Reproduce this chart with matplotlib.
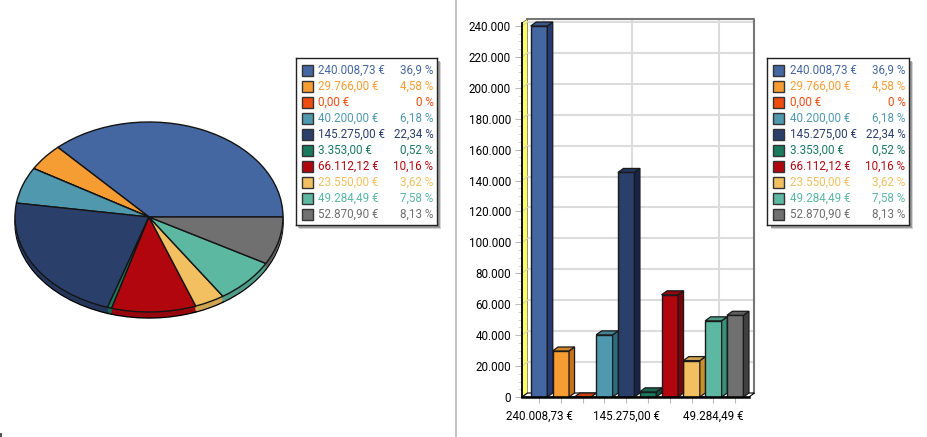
import numpy as np
import matplotlib
matplotlib.use("Agg")
import matplotlib.pyplot as plt
from matplotlib.colors import to_rgb
from matplotlib.patches import Rectangle, Polygon
from matplotlib.ticker import FuncFormatter, MultipleLocator

W, H = 928, 437
FS = 8.4

labels = ["240.008,73 €", "29.766,00 €", "0,00 €", "40.200,00 €", "145.275,00 €",
          "3.353,00 €", "66.112,12 €", "23.550,00 €", "49.284,49 €", "52.870,90 €"]
percents = ["36,9 %", "4,58 %", "0 %", "6,18 %", "22,34 %",
            "0,52 %", "10,16 %", "3,62 %", "7,58 %", "8,13 %"]
values = [240008.73, 29766.00, 0.00, 40200.00, 145275.00,
          3353.00, 66112.12, 23550.00, 49284.49, 52870.90]
colors = ["#4567A1", "#F59D33", "#F04C0F", "#4F98AE", "#2B3F6B",
          "#1A7A5E", "#B2060F", "#F2C060", "#5CB8A0", "#707070"]
side_colors = ["#243A70", "#C8701A", "#B03008", "#2C6C80", "#16244A",
               "#0D4D3A", "#780308", "#C8902C", "#389078", "#404040"]

plt.rcParams["font.family"] = ["Roboto", "DejaVu Sans"]


def px_axes(fig, x0, y0, x1, y1, **kw):
    # pixel box, y counted from the top of the image
    return fig.add_axes([x0 / W, 1 - y1 / H, (x1 - x0) / W, (y1 - y0) / H], **kw)


def shade(c, k):
    return tuple(v * k for v in to_rgb(c))


def draw_pie(fig):
    # top face: centre (149, 217), radii 134 x 95 px, 6 px deep
    ax = px_axes(fig, 14, 121, 284, 320)
    depth = 6 / 95
    pie_sides = [shade(c, 0.85) for c in colors]
    for off in np.linspace(depth, 0.01, 7):
        edge = {"linewidth": 1.0, "edgecolor": "black"} if off == depth else {"linewidth": 0}
        ax.pie(values, colors=pie_sides, startangle=0, center=(0, -off), radius=1, wedgeprops=edge)
    ax.pie(values, colors=colors, startangle=0, radius=1,
           wedgeprops={"linewidth": 1.0, "edgecolor": "#141414"})
    ax.set_aspect("auto")
    ax.set_xlim(-135 / 134, 135 / 134)
    ax.set_ylim(-103 / 95, 96 / 95)
    ax.axis("off")


def draw_legend(fig, x0, y0):
    w, h = 142, 167
    for off, alpha in [(4, 0.25), (3, 0.45)]:
        shadow = px_axes(fig, x0 + off, y0 + off, x0 + w + off, y0 + h + off)
        shadow.set_facecolor("#555555")
        shadow.patch.set_alpha(alpha)
        shadow.set_xticks([])
        shadow.set_yticks([])
        for s in shadow.spines.values():
            s.set_visible(False)
    ax = px_axes(fig, x0, y0, x0 + w, y0 + h)
    ax.set_xlim(0, w)
    ax.set_ylim(h, 0)
    ax.set_xticks([])
    ax.set_yticks([])
    for s in ax.spines.values():
        s.set_linewidth(1)
        s.set_color("#222222")
    for i, (lab, pct, c) in enumerate(zip(labels, percents, colors)):
        y = 12.7 + i * 16
        ax.add_patch(Rectangle((6, y - 5.5), 11, 11, fc=c, ec="#333333", lw=1))
        ax.text(22.5, y, lab, color=c, fontsize=FS, va="center", ha="left")
        ax.text(138, y, pct, color=c, fontsize=FS, va="center", ha="right")


def draw_bars(fig):
    # front plane of the box; index i sits at 539 + 21.8 * i px
    ax = px_axes(fig, 522, 19, 749, 397)
    x_per_px = 1 / 21.8
    y_top = (397 - 19) / (397 - 26) * 240000
    y_per_px = 240000 / (397 - 26)
    dx = 5.5 * x_per_px
    dy = 4 * y_per_px
    xl, xr = -17 * x_per_px, (749 - 539) * x_per_px
    ax.set_xlim(xl, xr)
    ax.set_ylim(0, y_top)
    for s in ax.spines.values():
        s.set_visible(False)
    ax.patch.set_visible(False)

    # back wall, floor, side wall
    ax.add_patch(Polygon([(xl + dx, dy), (xr + dx, dy), (xr + dx, y_top), (xl + dx, y_top)],
                         fc="white", ec="none", zorder=0, clip_on=False))
    for yv in np.arange(20000, 240001, 20000):
        ax.plot([xl + dx, xr + dx], [yv + dy, yv + dy], color="#DCDCDC", lw=1.5, zorder=1, clip_on=False)
        ax.plot([xl, xl + dx], [yv, yv + dy], color="#DDDD99", lw=1, zorder=2.5, clip_on=False)
    for xv in [0, 4, 8]:
        ax.plot([xv + dx, xv + dx], [dy, y_top], color="#DCDCDC", lw=1.5, zorder=1)
    ax.plot([xl + dx, xr + dx, xr + dx], [y_top, y_top, dy], color="#777777", lw=1.5, zorder=2, clip_on=False)
    ax.add_patch(Polygon([(xl, 0), (xl + dx, dy), (xl + dx, y_top), (xl, y_top - dy)],
                         fc="#FFFF66", ec="#666666", lw=0.5, zorder=2, clip_on=False))
    ax.add_patch(Polygon([(xl, 0), (xr, 0), (xr + dx, dy), (xl + dx, dy)],
                         fc="white", ec="black", lw=0.8, zorder=2, clip_on=False))

    w = 16.5 * x_per_px
    ax.bar(range(len(values)), values, width=w, color=colors, edgecolor="#1A1A1A", lw=1, zorder=3)
    for i, (v, c, sc) in enumerate(zip(values, colors, side_colors)):
        l, r = i - w / 2, i + w / 2
        ax.add_patch(Polygon([(r, 0), (r + dx, dy), (r + dx, v + dy), (r, v)],
                             fc=sc, ec="#1A1A1A", lw=0.9, zorder=3, clip_on=False))
        ax.add_patch(Polygon([(l, v), (r, v), (r + dx, v + dy), (l + dx, v + dy)],
                             fc=shade(c, 0.85), ec="#1A1A1A", lw=0.9, zorder=3, clip_on=False))

    ax.yaxis.set_major_locator(MultipleLocator(20000))
    ax.yaxis.set_major_formatter(FuncFormatter(lambda v, _: f"{int(v):,}".replace(",", ".")))
    ax.yaxis.set_minor_locator(MultipleLocator(5000))
    ax.tick_params(axis="y", which="major", length=5, color="#BBBBBB", labelsize=FS, pad=3)
    ax.tick_params(axis="y", which="minor", length=3, color="#CCCCCC")
    ax.set_xticks(range(len(values)))
    ax.set_xticklabels([lab if i % 4 == 0 else "" for i, lab in enumerate(labels)], fontsize=FS)
    ax.tick_params(axis="x", length=4, color="#BBBBBB", pad=5)
    ax.plot([xl, xl], [0, y_top - dy], color="black", lw=1.3, zorder=4, clip_on=False)
    ax.plot([xl, xr], [0, 0], color="black", lw=1.8, zorder=4, clip_on=False)


def main():
    fig = plt.figure(figsize=(W / 100, H / 100), dpi=100, facecolor="white")
    fig.add_artist(plt.Line2D([456.5 / W, 456.5 / W], [0, 1], color="#C4C4C4", lw=1.5))
    fig.add_artist(Rectangle((0, 0), 2 / W, 4 / H, transform=fig.transFigure, fc="#555555", ec="none"))
    draw_pie(fig)
    draw_legend(fig, 295.5, 58)
    draw_bars(fig)
    draw_legend(fig, 767.5, 58)
    fig.savefig("out.png", dpi=100)


if __name__ == "__main__":
    main()
